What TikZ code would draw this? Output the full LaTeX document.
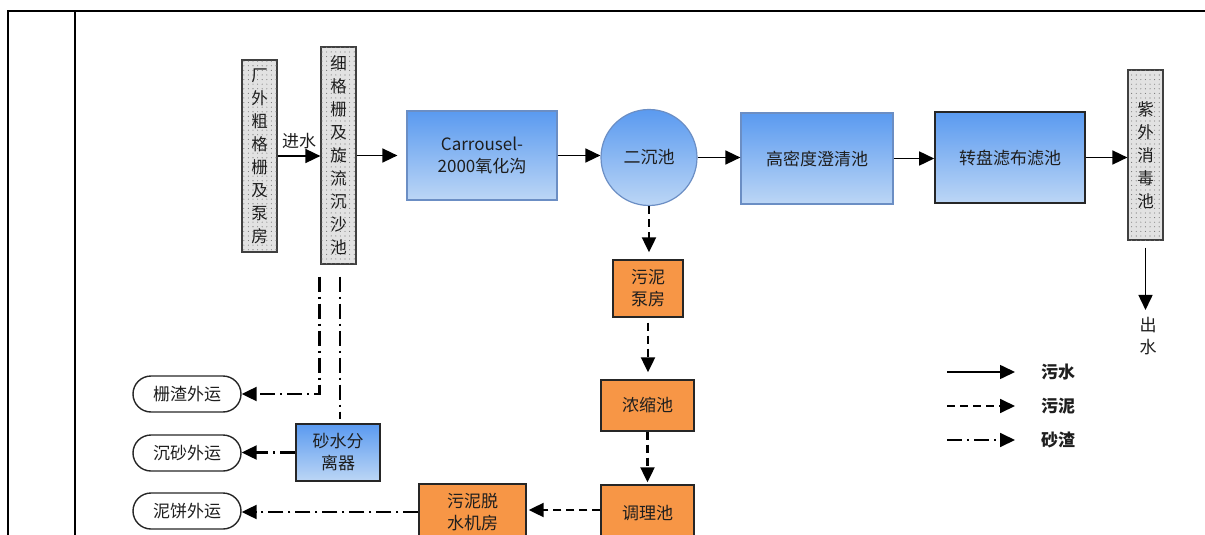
\documentclass[tikz,border=0pt]{standalone}
\usepackage{fontspec}
\setmainfont{Noto Sans CJK SC}
\usetikzlibrary{arrows.meta,patterns,calc}

\definecolor{txt}{HTML}{1E1E1E}
\definecolor{bluetop}{HTML}{5A9AF0}
\definecolor{bluebot}{HTML}{BCD6F5}
\definecolor{blueedge}{HTML}{6B8EC4}
\definecolor{sludge}{HTML}{F79646}
\definecolor{stonefill}{HTML}{E2E2E2}

% sparse dot texture for the screen / grit chambers
\pgfdeclarepatternformonly{sparsedots}{\pgfqpoint{-1pt}{-1pt}}{\pgfqpoint{1pt}{1pt}}{\pgfqpoint{4.6pt}{4.6pt}}%
{\pgfpathcircle{\pgfqpoint{0pt}{0pt}}{0.55pt}\pgfusepath{fill}}

\begin{document}
\begin{tikzpicture}[x=1pt,y=-1pt,
  every node/.style={text=txt, inner sep=0pt, align=center},
  txtsize/.style={font=\fontsize{17}{22}\selectfont},
  stone/.style={draw=black!75, line width=1.2pt, fill=stonefill,
    postaction={pattern=sparsedots, pattern color=black!55},
    font=\fontsize{16.5}{23}\selectfont, minimum width=35pt},
  tank/.style={txtsize, top color=bluetop, bottom color=bluebot, draw=blueedge, line width=1.2pt},
  tankdark/.style={txtsize, top color=bluetop, bottom color=bluebot, draw=black!85, line width=1.6pt},
  sbox/.style={txtsize, fill=sludge, draw=black!85, line width=1.4pt},
  haul/.style={txtsize, draw=black!85, line width=1.4pt, rounded corners=18pt,
    minimum width=108pt, minimum height=36pt},
  tip/.style={-{Triangle[length=15pt,width=14pt]}},
  water/.style={tip, line width=1.6pt},
  mud/.style={tip, line width=2.2pt, dash pattern=on 8pt off 5pt},
  grit/.style={tip, line width=2.2pt, dash pattern=on 15pt off 5pt on 2pt off 5pt},
  frame/.style={line width=2.4pt}
]
\useasboundingbox (0,0) rectangle (1205,535);
\clip (0,0) rectangle (1205,535);

% outer table rules
\draw[frame] (7,11) -- (1205,11);
\draw[frame] (8,11) -- (8,535);
\draw[frame] (75,11) -- (75,535);

% main water line
\node[stone, minimum height=192pt] (g1) at (259.5,156) {厂\\外\\粗\\格\\栅\\及\\泵\\房};
\node[stone, minimum height=217pt] (g2) at (338.5,155.5) {细\\格\\栅\\及\\旋\\流\\沉\\沙\\池};
\node[tank, minimum width=150pt, minimum height=89pt] (ox) at (482,155.5) {Carrousel-\\2000氧化沟};
\node[tank, circle, minimum size=96pt] (ec) at (649,157.5) {二沉池};
\node[tank, minimum width=152pt, minimum height=91pt] (gm) at (817,158.5) {高密度澄清池};
\node[tankdark, minimum width=150pt, minimum height=91pt] (zp) at (1010,157.5) {转盘滤布滤池};
\node[stone, minimum height=170pt] (uv) at (1145.5,155) {紫\\外\\消\\毒\\池};
\node[txtsize] (out) at (1148,336) {出\\水};

\draw[water] (g1.east) -- (g2.west |- g1.east) node[midway, above=6pt, txtsize] (inl) {进水};
\draw[water, shorten >=9pt] (g2.east) -- (ox.west |- g2.east);
\draw[water] (ox.east) -- (ox.east -| ec.west);
\draw[water] (ec.east) -- (ec.east -| gm.west);
\draw[water] (gm.east) -- (gm.east -| zp.west);
\draw[water] (zp.east) -- (zp.east -| uv.west);
\draw[water, shorten <=7pt, shorten >=7pt] (uv.south) -- (uv.south |- out.north);

% sludge line
\node[sbox, minimum width=70pt, minimum height=57pt] (wb) at (648,288.5) {污泥\\泵房};
\node[sbox, minimum width=93pt, minimum height=51pt] (ns) at (647.5,405.5) {浓缩池};
\node[sbox, minimum width=93pt, minimum height=56pt] (tl) at (647.5,513) {调理池};
\node[sbox, minimum width=107pt, minimum height=56pt] (tj) at (472.5,512) {污泥脱\\水机房};

\draw[mud, shorten >=7pt] (ec.south) -- (ec.south |- wb.north);
\draw[mud, shorten <=5pt, shorten >=7pt] (wb.south) -- (wb.south |- ns.north);
\draw[mud, shorten >=2pt] (ns.south) -- (ns.south |- tl.north);
\draw[mud, shorten >=2pt] (tl.west |- 0,510) -- (tj.east |- 0,510);

% grit line
\node[haul] (o1) at (187,394) {栅渣外运};
\node[haul] (o2) at (187,453) {沉砂外运};
\node[haul] (o3) at (187,511) {泥饼外运};
\node[tankdark, minimum width=84pt, minimum height=57pt] (sf) at (338,452.5) {砂水分\\离器};

\draw[grit] ($(g2.south west)+(-1,12)$) |- (o1.east);
\draw[grit, -] ($(g2.south)+(1.5,12)$) -- ($(sf.north)+(2,-4)$);
\draw[grit] (sf.west) -- (sf.west -| o2.east);
\draw[grit] (tj.west) -- (tj.west -| o3.east);

% legend
\coordinate (la1) at (947,372);
\coordinate (lb1) at (1015,372);
\coordinate (la2) at (947,406);
\coordinate (lb2) at (1015,406);
\coordinate (la3) at (947,440);
\coordinate (lb3) at (1015,440);
\node[txtsize, font=\fontsize{17}{22}\selectfont\bfseries] (lw) at (1058,372) {污水};
\node[txtsize, font=\fontsize{17}{22}\selectfont\bfseries] (ls) at (1058,406) {污泥};
\node[txtsize, font=\fontsize{17}{22}\selectfont\bfseries] (lg) at (1058,440) {砂渣};
\draw[water] (la1) -- (lb1);
\draw[mud, line width=1.8pt] (la2) -- (lb2);
\draw[grit, line width=1.8pt] (la3) -- (lb3);
\end{tikzpicture}
\end{document}
